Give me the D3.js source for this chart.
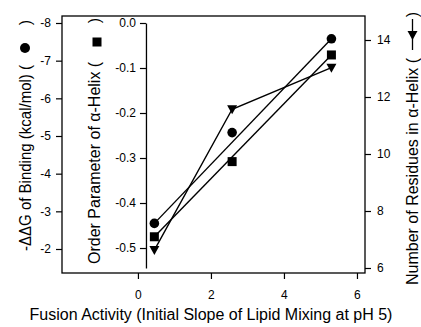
<!DOCTYPE html>
<html><head><meta charset="utf-8">
<script src="https://cdn.jsdelivr.net/npm/d3@7"></script>
<style>
html,body{margin:0;padding:0;background:#fff;}
svg{display:block;font-family:"Liberation Sans",Arial,Helvetica,sans-serif;}
</style></head>
<body><svg id="c" width="421" height="327"></svg>
<script>
// ---- data ----
const fusionActivity = [0.45, 2.58, 5.30];
const ddGBinding = [-2.68, -5.09, -7.58];          // circles, left axis
const orderParameter = [-0.475, -0.308, -0.071];   // squares, inner axis
const helixResidues = [6.63, 11.57, 13.03];        // triangles, right axis
const xTicks = [0, 2, 4, 6];
const leftTicks = [-8, -7, -6, -5, -4, -3, -2];
const innerTicks = [0, -0.1, -0.2, -0.3, -0.4, -0.5];
const rightTicks = [6, 8, 10, 12, 14];

const svg = d3.select("#c");
const L = 62, R = 365, T = 16, B = 273;

const x = d3.scaleLinear([-2.08, 6.22], [L, R]);
const yLeft = d3.scaleLinear([-8, -2], [23, 249]);
const yInner = d3.scaleLinear([0, -0.5444], [23, 268]);
const yRight = d3.scaleLinear([6, 14], [268, 40]);
const innerX = x(0.22);

// frame
svg.append("rect").attr("x", L).attr("y", T).attr("width", R - L).attr("height", B - T)
  .attr("fill", "none").attr("stroke", "#000").attr("stroke-width", 1.3);

function style(g, fs) {
  g.selectAll("line").attr("stroke", "#000").attr("stroke-width", 1.2);
  g.selectAll("path.domain").attr("stroke", "#000").attr("stroke-width", 1.3);
  g.selectAll("text").attr("fill", "#000").style("font-size", fs + "px")
   .style("font-family", "'Liberation Sans',Arial,Helvetica,sans-serif");
}

// bottom axis
const gx = svg.append("g").attr("transform", `translate(0,${B})`)
  .call(d3.axisBottom(x).tickValues(xTicks).tickFormat(d => String(d)).tickSize(6).tickPadding(11));
gx.select(".domain").remove();
style(gx, 12);

// left axis
const gl = svg.append("g").attr("transform", `translate(${L},0)`)
  .call(d3.axisLeft(yLeft).tickValues(leftTicks).tickFormat(d => String(d)).tickSize(6).tickPadding(5));
gl.select(".domain").remove();
style(gl, 12);

// inner axis
const gi = svg.append("g").attr("transform", `translate(${innerX},0)`)
  .call(d3.axisLeft(yInner).tickValues(innerTicks).tickFormat(d => d.toFixed(1)).tickSize(6).tickSizeOuter(0).tickPadding(4));
style(gi, 12);

// right axis
const gr = svg.append("g").attr("transform", `translate(${R},0)`)
  .call(d3.axisRight(yRight).tickValues(rightTicks).tickFormat(d => String(d)).tickSize(6).tickPadding(6));
gr.select(".domain").remove();
style(gr, 12);

// lines
const ln = d3.line();
const circlePts = fusionActivity.map((f, i) => [x(f), yLeft(ddGBinding[i])]);
const squarePts = fusionActivity.map((f, i) => [x(f), yInner(orderParameter[i])]);
const triPts = fusionActivity.map((f, i) => [x(f), yRight(helixResidues[i])]);

const lineG = svg.append("g").attr("fill", "none").attr("stroke", "#000").attr("stroke-width", 1.4);
lineG.append("path").attr("d", ln([circlePts[0], circlePts[circlePts.length - 1]]));
lineG.append("path").attr("d", ln([squarePts[0], squarePts[squarePts.length - 1]]));
lineG.append("path").attr("d", ln(triPts));

// markers
const triDown = "M-5,-4L5,-4L0,5Z";
svg.append("g").selectAll("circle").data(circlePts).join("circle")
  .attr("cx", d => d[0]).attr("cy", d => d[1]).attr("r", 4.8).attr("fill", "#000");
svg.append("g").selectAll("rect").data(squarePts).join("rect")
  .attr("x", d => d[0] - 4.5).attr("y", d => d[1] - 4.5).attr("width", 9).attr("height", 9).attr("fill", "#000");
svg.append("g").selectAll("path").data(triPts).join("path")
  .attr("transform", d => `translate(${d[0]},${d[1]})`).attr("d", triDown).attr("fill", "#000");

// titles
const tf = "16px";
svg.append("text").attr("x", 211).attr("y", 320).attr("text-anchor", "middle").style("font-size", tf)
  .text("Fusion Activity (Initial Slope of Lipid Mixing at pH 5)");

// left title
svg.append("text").attr("transform", "translate(30.5,251) rotate(-90)").attr("text-anchor", "start").style("font-size", tf)
  .attr("textLength", 186).attr("lengthAdjust", "spacingAndGlyphs")
  .text("-ΔΔG of Binding (kcal/mol) (");
svg.append("text").attr("transform", "translate(30.5,20) rotate(-90)").attr("text-anchor", "end").style("font-size", tf)
  .text(")");
svg.append("circle").attr("cx", 25).attr("cy", 48).attr("r", 5).attr("fill", "#000");

// inner title
svg.append("text").attr("transform", "translate(100,264) rotate(-90)").attr("text-anchor", "start").style("font-size", tf)
  .text("Order Parameter of α-Helix (");
svg.append("text").attr("transform", "translate(100,18) rotate(-90)").attr("text-anchor", "end").style("font-size", tf)
  .text(")");
svg.append("rect").attr("x", 92.5).attr("y", 37.5).attr("width", 9).attr("height", 9).attr("fill", "#000");

// right title
svg.append("text").attr("transform", "translate(418,285) rotate(-90)").attr("text-anchor", "start").style("font-size", tf)
  .text("Number of Residues in α-Helix (");
svg.append("text").attr("transform", "translate(418,12) rotate(-90)").attr("text-anchor", "end").style("font-size", tf)
  .text(")");
svg.append("line").attr("x1", 412.5).attr("x2", 412.5).attr("y1", 19).attr("y2", 50)
  .attr("stroke", "#000").attr("stroke-width", 1.3);
svg.append("path").attr("transform", "translate(412.5,35)").attr("d", triDown).attr("fill", "#000");
</script></body></html>
